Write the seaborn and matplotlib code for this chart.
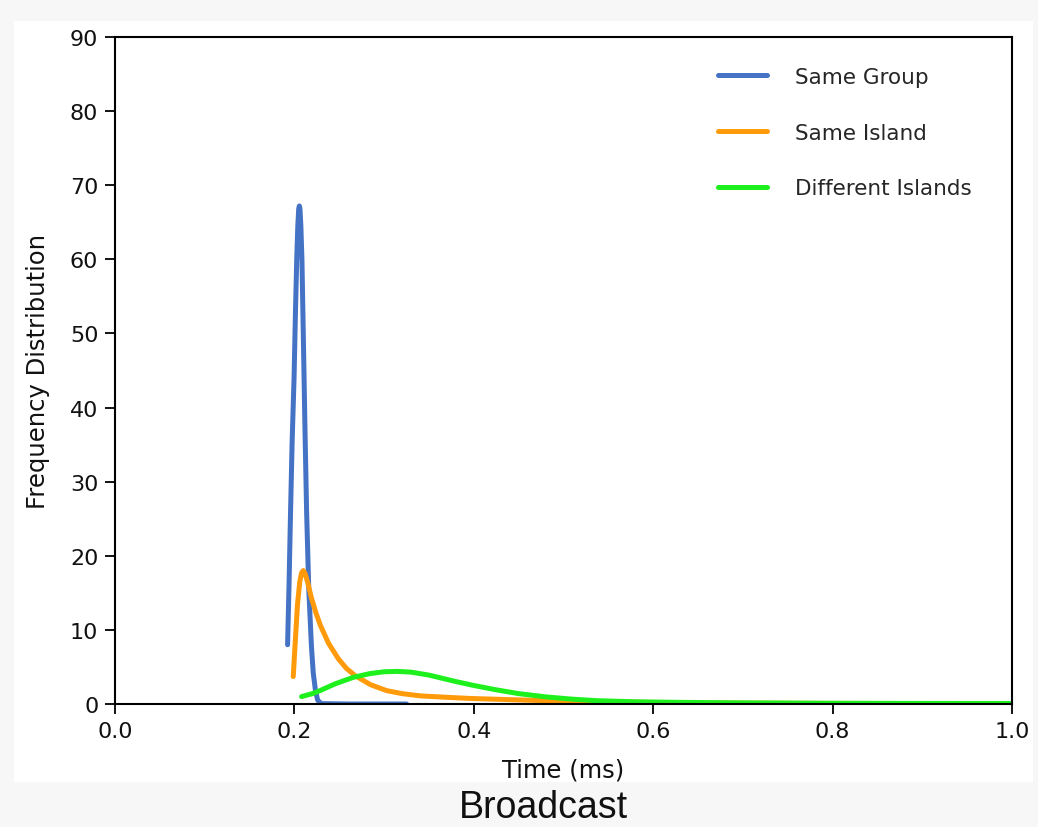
import numpy as np
import pandas as pd
import seaborn as sns
import matplotlib.pyplot as plt
from matplotlib.patches import Rectangle

# =====================
# DATA
# =====================
series_names = ["Same Group", "Same Island", "Different Islands"]
colors = ["#4472C4", "#FF9A0A", "#1EF01E"]

group_t = [0.1924, 0.1940, 0.1957, 0.1975, 0.1996, 0.2012, 0.2026, 0.2038,
           0.2048, 0.2055, 0.2062, 0.2072, 0.2084, 0.2099, 0.2118, 0.2136,
           0.2160, 0.2190, 0.2210, 0.2235, 0.2260, 0.2300, 0.2600, 0.3250]
group_f = [8.0, 16.0, 25.9, 35.5, 43.9, 53.0, 60.0, 64.5,
           66.8, 67.2, 66.8, 64.5, 60.0, 50.0, 37.0, 26.0,
           15.5, 7.8, 4.2, 1.8, 0.5, 0.05, 0.0, 0.0]

island_t = [0.1987, 0.2010, 0.2035, 0.2060, 0.2080, 0.2099, 0.2120, 0.2150,
            0.2190, 0.2240, 0.2290, 0.2380, 0.2490, 0.2580, 0.2680, 0.2850,
            0.3030, 0.3200, 0.3400, 0.3700, 0.3960, 0.4500, 0.5000, 0.5500,
            0.6000, 0.7000, 0.8000, 0.9000, 1.0000]
island_f = [3.7, 8.5, 13.5, 16.5, 17.7, 18.0, 17.6, 16.3,
            14.3, 12.3, 10.6, 8.2, 6.1, 4.8, 3.8, 2.6,
            1.8, 1.4, 1.1, 0.9, 0.75, 0.55, 0.4, 0.3,
            0.2, 0.12, 0.08, 0.06, 0.05]

diff_t = [0.208, 0.220, 0.2285, 0.245, 0.2657, 0.284, 0.300, 0.315, 0.330,
          0.350, 0.381, 0.400, 0.4255, 0.450, 0.481, 0.510, 0.537, 0.580,
          0.630, 0.700, 0.800, 0.900, 1.000]
diff_f = [1.0, 1.4, 1.8, 2.7, 3.6, 4.1, 4.35, 4.4, 4.3,
          3.9, 3.0, 2.5, 1.9, 1.4, 0.95, 0.65, 0.45, 0.3,
          0.22, 0.15, 0.1, 0.08, 0.07]

x_ticks = [0.0, 0.2, 0.4, 0.6, 0.8, 1.0]
y_ticks = [0, 10, 20, 30, 40, 50, 60, 70, 80, 90]

df = pd.concat([
    pd.DataFrame({"Time": group_t, "Freq": group_f, "Series": series_names[0]}),
    pd.DataFrame({"Time": island_t, "Freq": island_f, "Series": series_names[1]}),
    pd.DataFrame({"Time": diff_t, "Freq": diff_f, "Series": series_names[2]}),
], ignore_index=True)

# =====================
# PLOT
# =====================
sns.set_style("ticks")
plt.rcParams["font.family"] = ["DejaVu Sans"]

fig = plt.figure(figsize=(10.38, 8.28), dpi=100, facecolor="#f7f7f7")
fig.patches.append(Rectangle((14 / 1038, 1 - 783 / 828), 1019 / 1038, 761 / 828,
                             transform=fig.transFigure, facecolor="white",
                             edgecolor="none", zorder=-1))
ax = fig.add_axes([115 / 1038, 1 - 705 / 828, 897 / 1038, 667 / 828])
ax.set_facecolor("white")

sns.lineplot(data=df, x="Time", y="Freq", hue="Series", hue_order=series_names,
             palette=colors, estimator=None, sort=False, linewidth=3.6, ax=ax)

ax.set_xlim(0, 1)
ax.set_ylim(0, 90)
ax.set_xticks(x_ticks)
ax.set_xticklabels([f"{v:.1f}" for v in x_ticks])
ax.set_yticks(y_ticks)
ax.tick_params(labelsize=16, length=7, width=1.3, pad=5,
               color="black", labelcolor="#111111")
for s in ax.spines.values():
    s.set_visible(True)
    s.set_linewidth(1.5)
    s.set_color("black")

ax.set_xlabel("Time (ms)", fontsize=17.5, color="#111111", labelpad=12)
ax.set_ylabel("Frequency Distribution", fontsize=17.5, color="#111111", labelpad=14)

ax.legend(frameon=False, loc="upper left", bbox_to_anchor=(0.672, 0.955),
          borderaxespad=0, borderpad=0, fontsize=15.5, handlelength=2.3,
          handletextpad=1.3, labelspacing=1.65)

fig.text(543 / 1038, 1 - 808 / 828, "Broadcast", ha="center", va="center",
         fontsize=27, family="Liberation Sans", color="#111111")

plt.savefig("out.png", dpi=100, facecolor=fig.get_facecolor())
